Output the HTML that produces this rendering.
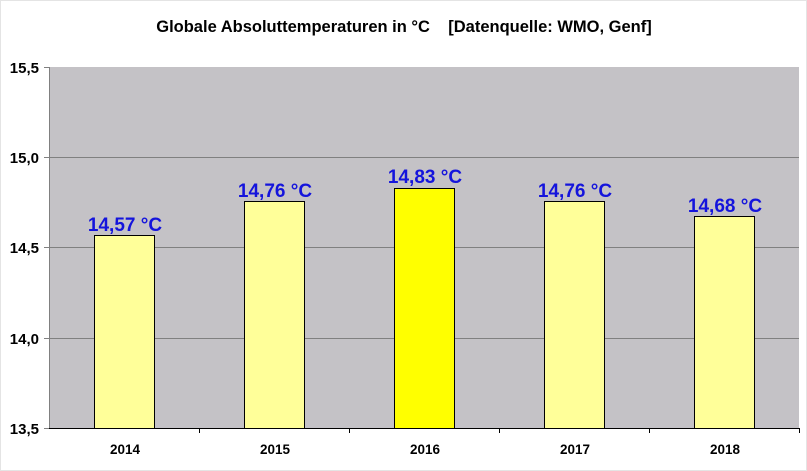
<!DOCTYPE html>
<html><head><meta charset="utf-8"><style>body{margin:0;background:#fff}svg{display:block}</style></head><body>
<svg width="807" height="471" xmlns="http://www.w3.org/2000/svg" font-family="Liberation Sans, Arial, sans-serif">
<rect x="0.5" y="0.5" width="806" height="470" fill="#fff" stroke="#e4e4e4"/>
<text x="404" y="32" font-size="16.5" font-weight="bold" text-anchor="middle" xml:space="preserve">Globale Absoluttemperaturen in °C    [Datenquelle: WMO, Genf]</text>
<rect x="49" y="67" width="750" height="361" fill="#c4c2c6"/>
<g stroke="#808080" stroke-width="1">
<line x1="49" y1="157.5" x2="799" y2="157.5"/>
<line x1="49" y1="247.5" x2="799" y2="247.5"/>
<line x1="49" y1="338.5" x2="799" y2="338.5"/>
<line x1="49.5" y1="67" x2="49.5" y2="428"/>
<line x1="44" y1="67.5" x2="49" y2="67.5"/>
<line x1="44" y1="157.5" x2="49" y2="157.5"/>
<line x1="44" y1="247.5" x2="49" y2="247.5"/>
<line x1="44" y1="338.5" x2="49" y2="338.5"/>
<line x1="44" y1="428.5" x2="49" y2="428.5"/>
</g>
<line x1="49" y1="428.5" x2="800" y2="428.5" stroke="#000"/>
<g stroke="#000" stroke-width="1">
<line x1="199.5" y1="428" x2="199.5" y2="433"/><line x1="349.5" y1="428" x2="349.5" y2="433"/><line x1="499.5" y1="428" x2="499.5" y2="433"/><line x1="649.5" y1="428" x2="649.5" y2="433"/><line x1="799.5" y1="428" x2="799.5" y2="433"/>
</g>
<g stroke="#000" stroke-width="1">
<rect x="94.5" y="235.5" width="60" height="193" fill="#ffff99"/>
<rect x="244.5" y="201.5" width="60" height="227" fill="#ffff99"/>
<rect x="394.5" y="188.5" width="60" height="240" fill="#ffff00"/>
<rect x="544.5" y="201.5" width="60" height="227" fill="#ffff99"/>
<rect x="694.5" y="216.5" width="60" height="212" fill="#ffff99"/>
</g>
<g font-size="19" font-weight="bold" fill="#1414dc" text-anchor="middle">
<text x="125" y="231">14,57 °C</text>
<text x="275" y="197">14,76 °C</text>
<text x="425" y="183">14,83 °C</text>
<text x="575" y="197">14,76 °C</text>
<text x="725" y="212">14,68 °C</text>
</g>
<g font-size="15" font-weight="bold" text-anchor="end">
<text x="39" y="73">15,5</text><text x="39" y="163">15,0</text><text x="39" y="253">14,5</text><text x="39" y="344">14,0</text><text x="39" y="434">13,5</text>
</g>
<g font-size="13.5" font-weight="bold" text-anchor="middle">
<text x="125" y="454">2014</text><text x="275" y="454">2015</text><text x="425" y="454">2016</text><text x="575" y="454">2017</text><text x="725" y="454">2018</text>
</g>
</svg>
</body></html>
